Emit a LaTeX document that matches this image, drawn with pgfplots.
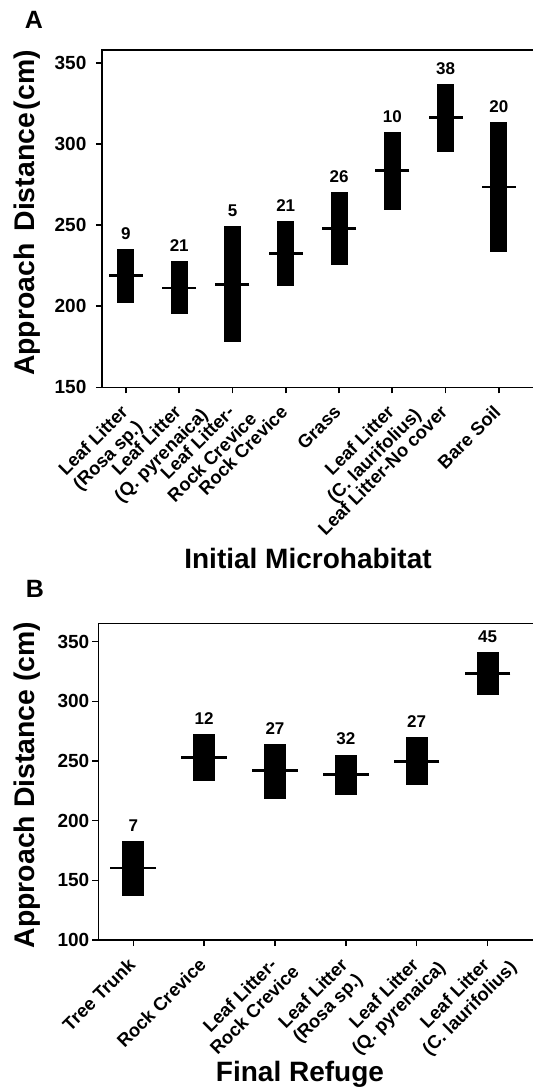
\documentclass[border=0pt]{standalone}
\usepackage{fontspec}
\setmainfont{Liberation Sans}
\usepackage{pgfplots}
\pgfplotsset{compat=1.18}
\usepackage{pgfplotstable}

% x = category, lo/hi = bar ends, m = mean, n = sample size
\pgfplotstableread{
x lo    m     hi    n
1 201.9 218.9 235.4 9
2 195.0 211.3 227.8 21
3 177.8 213.6 249.4 5
4 212.3 232.7 252.8 21
5 225.3 248.1 270.6 26
6 259.4 283.7 307.6 10
7 295.2 316.7 337.0 38
8 233.3 273.6 313.6 20
}\dataA

\pgfplotstableread{
x lo    m     hi    n
1 137.2 160.4 183.0 7
2 233.4 252.9 272.5 12
3 218.4 241.8 264.4 27
4 221.7 238.7 255.4 32
5 229.8 249.6 270.0 27
6 305.1 323.2 341.1 45
}\dataB

% two-line tick label: first line carries the anchor, second hangs centred below
\newsavebox\lineone
\newcommand\twol[2]{\sbox\lineone{#1}\rlap{\raisebox{-1.12em}[0pt][0pt]{\makebox[\wd\lineone][c]{#2}}}\usebox\lineone}

\pgfplotsset{
  panel/.style={
    scale only axis,
    axis line style={line width=0.8pt},
    every tick/.style={line width=0.8pt, black},
    tick align=outside,
    major tick length=3pt,
    tick pos=left,
    /pgf/number format/assume math mode=true,
    yticklabel style={font=\fontsize{9.5}{10}\selectfont\bfseries},
    xticklabel shift=7pt,
    xticklabel style={font=\fontsize{9.2}{10}\selectfont\bfseries, rotate=45, anchor=east, inner sep=1pt},
  },
  bars/.style={only marks, mark=none,
    error bars/.cd, y dir=both, y explicit, error mark=none,
    error bar style={black, solid, line width=#1}},
  means/.style={only marks, mark=-, mark size=#1, mark options={black, line width=1.4pt}},
  counts/.style={only marks, mark=none, nodes near coords, point meta=explicit symbolic,
    every node near coord/.append style={font=\fontsize{8.5}{10}\selectfont\bfseries, anchor=south, inner sep=0pt, yshift=4.5pt, black}},
}

\begin{document}
\begin{tikzpicture}
\useasboundingbox (0,0) rectangle (266pt,-545.5pt);

% ---------- panel A ----------
\begin{axis}[panel,
    at={(51pt,-25pt)}, anchor=north west,
    width=216.5pt, height=168.65pt,
    xmin=0.55, xmax=8.68, ymin=150, ymax=358.2,
    ytick={150,200,...,350},
    yticklabel style={xshift=-1.3pt},
    xtick={1,...,8},
    xticklabels={\twol{Leaf Litter}{(Rosa sp.)}, \twol{Leaf Litter}{(Q. pyrenaica)},
      \twol{Leaf Litter-}{Rock Crevice}, Rock Crevice, Grass,
      \twol{Leaf Litter}{(C. laurifolius)}, Leaf Litter-No cover, Bare Soil},
  ]
\addplot[bars=8.5pt] table[x=x, y=m,
    y error plus expr=\thisrow{hi}-\thisrow{m},
    y error minus expr=\thisrow{m}-\thisrow{lo}] {\dataA};
\addplot[means=8.5pt] table[x=x, y=m] {\dataA};
\addplot[counts] table[x=x, y=hi, meta=n] {\dataA};
\end{axis}

% ---------- panel B ----------
\begin{axis}[panel,
    at={(49.15pt,-311.65pt)}, anchor=north west,
    width=218.35pt, height=158.35pt,
    xmin=0.506, xmax=6.67, ymin=100, ymax=365.4,
    ytick={100,150,...,350},
    yticklabel style={xshift=2pt},
    xtick={1,...,6},
    xticklabels={Tree Trunk, Rock Crevice, \twol{Leaf Litter-}{Rock Crevice},
      \twol{Leaf Litter}{(Rosa sp.)}, \twol{Leaf Litter}{(Q. pyrenaica)},
      \twol{Leaf Litter}{(C. laurifolius)}},
  ]
\addplot[bars=11pt] table[x=x, y=m,
    y error plus expr=\thisrow{hi}-\thisrow{m},
    y error minus expr=\thisrow{m}-\thisrow{lo}] {\dataB};
\addplot[means=11.4pt] table[x=x, y=m] {\dataB};
\addplot[counts] table[x=x, y=hi, meta=n] {\dataB};
\end{axis}

% ---------- titles and labels ----------
\node[font=\fontsize{12.5}{13}\selectfont\bfseries] at (17pt,-10pt) {A};
\node[font=\fontsize{12.5}{13}\selectfont\bfseries] at (17.5pt,-294.3pt) {B};
\node[font=\fontsize{14.2}{15}\selectfont\bfseries, rotate=90] at (13.5pt,-106.5pt) {Approach\hspace{6pt}Distance\hspace{1.5pt}(cm)};
\node[font=\fontsize{14.2}{15}\selectfont\bfseries, rotate=90] at (13.5pt,-392.5pt) {Approach Distance (cm)};
\node[font=\fontsize{14}{15}\selectfont\bfseries, anchor=base] at (154pt,-284.1pt) {Initial Microhabitat};
\node[font=\fontsize{14}{15}\selectfont\bfseries, anchor=base] at (150pt,-540.8pt) {Final Refuge};
\end{tikzpicture}
\end{document}
